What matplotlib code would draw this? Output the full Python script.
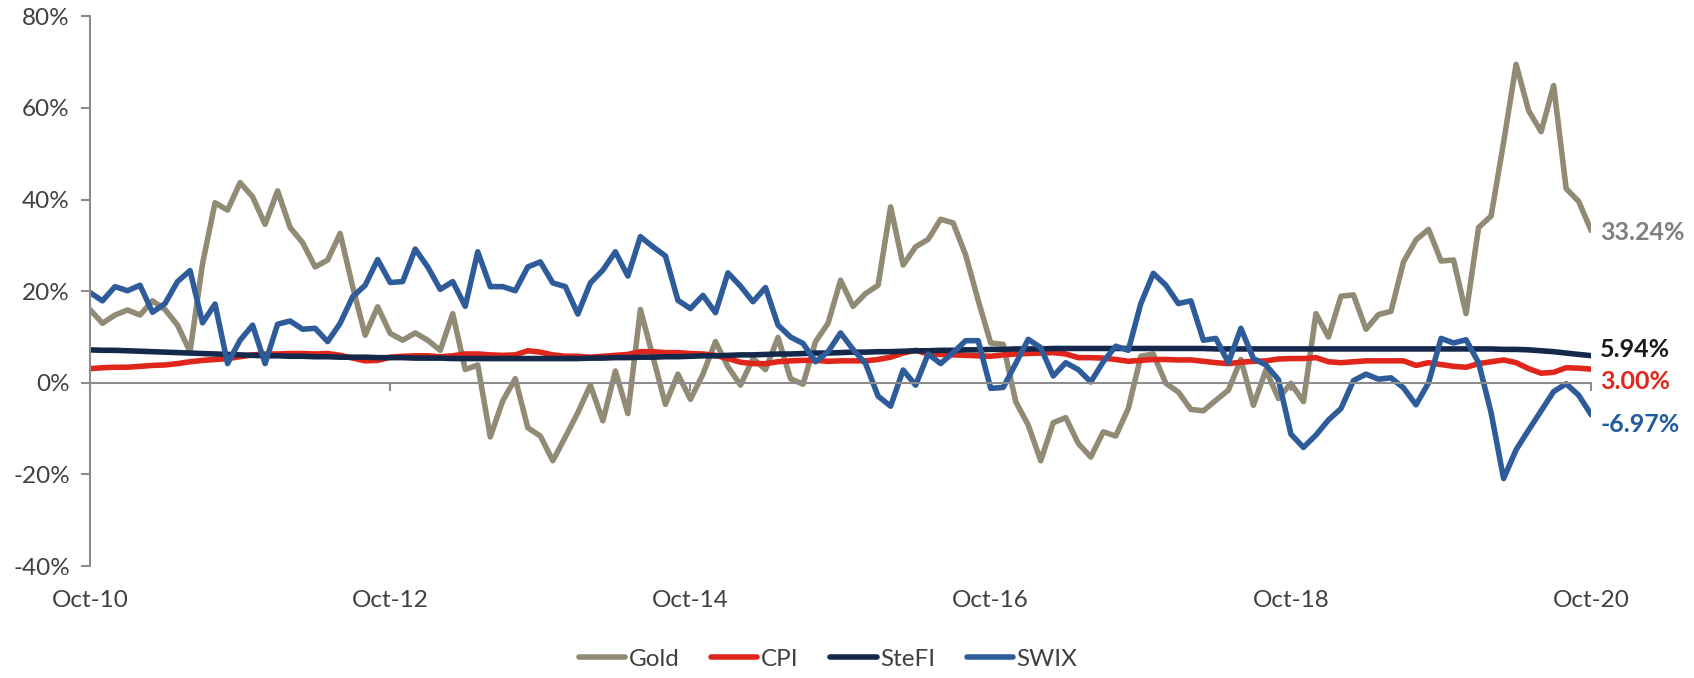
import numpy as np
import matplotlib
matplotlib.use("Agg")
import matplotlib.pyplot as plt

plt.rcParams['font.family'] = ['Lato', 'DejaVu Sans']

# monthly year-on-year returns (%), Oct-10 .. Oct-20
gold = [16.0, 13.0, 14.8, 15.9, 14.8, 17.9, 16.0, 12.6, 6.8, 26.0,
        39.3, 37.7, 43.7, 40.6, 34.6, 41.9, 33.9, 30.6, 25.3, 26.8,
        32.6, 21.0, 10.4, 16.6, 10.8, 9.3, 10.9, 9.3, 7.1, 15.1,
        2.9, 3.9, -11.8, -3.9, 0.9, -9.8, -11.6, -17.0, -11.8, -6.5,
        -0.5, -8.3, 2.6, -6.7, 16.0, 5.7, -4.7, 1.9, -3.6, 1.9,
        9.0, 3.5, -0.5, 5.3, 2.9, 9.9, 0.9, -0.3, 9.0, 13.0,
        22.4, 16.7, 19.5, 21.3, 38.4, 25.7, 29.7, 31.3, 35.7, 34.9,
        27.9, 18.0, 8.7, 8.4, -4.1, -9.2, -17.0, -8.7, -7.6, -13.2,
        -16.2, -10.7, -11.6, -5.6, 5.8, 6.3, -0.1, -2.0, -5.8, -6.1,
        -3.8, -1.6, 5.1, -4.9, 2.8, -3.4, -0.1, -4.1, 15.1, 10.0,
        18.9, 19.2, 11.7, 14.9, 15.6, 26.4, 31.2, 33.5, 26.6, 26.8,
        15.1, 33.9, 36.4, 52.5, 69.5, 59.4, 54.8, 64.9, 42.4, 39.6,
        33.24]

cpi = [3.1, 3.3, 3.4, 3.4, 3.6, 3.8, 3.9, 4.2, 4.6, 4.9,
       5.1, 5.3, 5.7, 6.1, 6.3, 6.3, 6.4, 6.4, 6.3, 6.4,
       6.0, 5.4, 4.8, 4.9, 5.6, 5.8, 5.9, 5.9, 5.7, 5.9,
       6.3, 6.3, 6.1, 6.0, 6.1, 7.0, 6.7, 6.1, 5.8, 5.8,
       5.6, 5.8, 6.0, 6.2, 6.8, 6.8, 6.6, 6.6, 6.4, 6.3,
       6.0, 5.3, 4.5, 4.2, 4.2, 4.6, 4.8, 4.9, 4.9, 4.7,
       4.8, 4.8, 4.8, 5.1, 5.6, 6.5, 7.1, 6.3, 6.2, 6.1,
       6.0, 5.9, 5.8, 6.1, 6.3, 6.4, 6.5, 6.6, 6.3, 5.5,
       5.5, 5.4, 5.1, 4.7, 4.9, 5.1, 5.1, 5.0, 5.0, 4.7,
       4.4, 4.2, 4.5, 4.7, 4.8, 5.2, 5.3, 5.3, 5.5, 4.6,
       4.4, 4.6, 4.8, 4.8, 4.8, 4.8, 3.8, 4.4, 4.0, 3.6,
       3.4, 4.2, 4.6, 5.0, 4.4, 3.1, 2.1, 2.3, 3.3, 3.2,
       3.00]

stefi = [7.2, 7.1, 7.1, 7.0, 6.9, 6.8, 6.7, 6.6, 6.5, 6.4,
         6.3, 6.2, 6.1, 6.0, 5.9, 5.9, 5.8, 5.8, 5.7, 5.7,
         5.6, 5.6, 5.6, 5.5, 5.5, 5.5, 5.4, 5.4, 5.4, 5.3,
         5.3, 5.3, 5.3, 5.3, 5.3, 5.3, 5.3, 5.3, 5.3, 5.3,
         5.4, 5.4, 5.5, 5.5, 5.6, 5.6, 5.7, 5.7, 5.8, 5.9,
         5.9, 6.0, 6.1, 6.1, 6.2, 6.3, 6.3, 6.4, 6.5, 6.5,
         6.6, 6.7, 6.7, 6.8, 6.8, 6.9, 7.0, 7.0, 7.1, 7.1,
         7.2, 7.2, 7.3, 7.3, 7.4, 7.4, 7.4, 7.5, 7.5, 7.5,
         7.5, 7.5, 7.5, 7.5, 7.5, 7.5, 7.5, 7.5, 7.5, 7.5,
         7.4, 7.4, 7.4, 7.4, 7.4, 7.4, 7.4, 7.4, 7.4, 7.4,
         7.4, 7.4, 7.4, 7.4, 7.4, 7.4, 7.4, 7.4, 7.4, 7.4,
         7.4, 7.4, 7.4, 7.3, 7.3, 7.2, 7.0, 6.8, 6.5, 6.2,
         5.94]

swix = [19.7, 17.9, 21.0, 20.1, 21.3, 15.4, 17.3, 22.1, 24.5, 13.1,
        17.2, 4.2, 9.3, 12.6, 4.2, 12.8, 13.5, 11.7, 11.9, 9.0,
        13.0, 18.8, 21.3, 26.9, 21.9, 22.1, 29.2, 25.3, 20.4, 22.1,
        16.7, 28.6, 21.0, 21.0, 20.1, 25.3, 26.4, 21.8, 21.0, 15.0,
        21.8, 24.6, 28.6, 23.3, 31.9, 29.7, 27.7, 18.0, 16.2, 19.1,
        15.3, 24.0, 21.1, 17.7, 20.8, 12.6, 10.0, 8.6, 4.6, 6.8,
        10.9, 7.3, 4.2, -2.9, -5.1, 2.8, -0.5, 6.3, 4.2, 6.6,
        9.2, 9.2, -1.2, -1.0, 4.2, 9.5, 7.7, 1.5, 4.4, 2.9,
        0.2, 4.6, 8.0, 7.1, 17.3, 23.9, 21.3, 17.3, 17.9, 9.3,
        9.7, 4.4, 11.9, 5.3, 3.9, 0.7, -11.2, -14.1, -11.4, -8.1,
        -5.6, 0.5, 1.9, 0.8, 1.1, -1.1, -4.8, 0.0, 9.7, 8.7,
        9.4, 4.4, -6.5, -20.9, -14.6, -10.3, -6.1, -1.9, -0.2, -2.7,
        -6.97]

tick_labels = ["Oct-10", "Oct-12", "Oct-14", "Oct-16", "Oct-18", "Oct-20"]
series_names = ["Gold", "CPI", "SteFI", "SWIX"]
series_colors = ["#918A74", "#E0251B", "#14284B", "#2E5C9A"]
label_colors = ["#7F7F7F", "#E0251B", "#1A1A1A", "#1F5CA0"]

months = np.arange(len(gold))

fig = plt.figure(figsize=(16.94, 6.78), dpi=100)
ax = fig.add_axes([0.0531, 0.165, 0.8862, 0.811])

for vals, name, col in zip([gold, cpi, stefi, swix], series_names, series_colors):
    ax.plot(months, vals, color=col, lw=4.0, label=name,
            solid_joinstyle="round", solid_capstyle="round")

ax.set_xlim(0, 120)
ax.set_ylim(-40, 80)
ax.set_yticks(np.arange(-40, 81, 20))
ax.set_yticklabels([f"{v}%" for v in range(-40, 81, 20)])

axis_grey = "#8C8C8C"
text_grey = "#404040"
for side in ["top", "right"]:
    ax.spines[side].set_visible(False)
ax.spines["left"].set_color(axis_grey)
ax.spines["left"].set_linewidth(1.5)
ax.spines["bottom"].set_position(("data", 0))
ax.spines["bottom"].set_color(axis_grey)
ax.spines["bottom"].set_linewidth(1.5)

ax.tick_params(axis="y", direction="out", length=6.5, width=1.5, color=axis_grey,
               labelsize=17.5, labelcolor=text_grey, pad=8)
ax.set_xticks(np.arange(0, 121, 24))
ax.tick_params(axis="x", direction="out", length=6, width=1.5, color=axis_grey,
               labelbottom=False)

# date labels sit below the plot, not on the zero line
sec = ax.secondary_xaxis("bottom")
sec.set_xticks(np.arange(0, 121, 24))
sec.set_xticklabels(tick_labels)
sec.spines["bottom"].set_visible(False)
sec.tick_params(axis="x", length=0, labelsize=17.5, labelcolor=text_grey, pad=17)

# end-of-series value labels
end_offsets = [-1.5, -8.6, 4.7, -6.8]
for vals, col, dy in zip([gold, cpi, stefi, swix], label_colors, end_offsets):
    ax.annotate(f"{vals[-1]:.2f}%", xy=(months[-1], vals[-1]), xytext=(6.5, dy),
                textcoords="offset points", ha="left", va="center",
                fontsize=18, fontweight="bold", color=col, annotation_clip=False)

leg = ax.legend(loc="center", bbox_to_anchor=(0.489, 0.028), bbox_transform=fig.transFigure,
                ncol=4, frameon=False, fontsize=17.5, handlelength=1.9,
                handletextpad=0.15, columnspacing=1.3)
for t in leg.get_texts():
    t.set_color(text_grey)

fig.savefig("out.png", dpi=100)
